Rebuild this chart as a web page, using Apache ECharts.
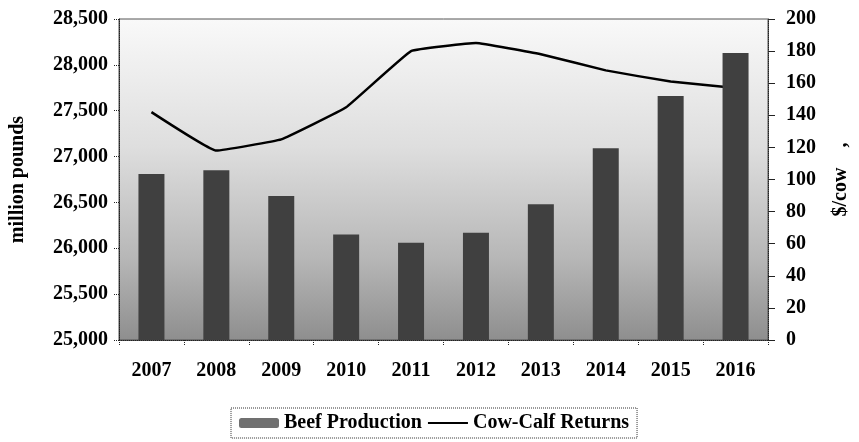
<!DOCTYPE html>
<html>
<head>
<meta charset="utf-8">
<script src="https://cdn.jsdelivr.net/npm/echarts@6/dist/echarts.min.js"></script>
<style>
  html, body { margin: 0; padding: 0; background: #fff; }
  #chart { width: 859px; height: 442px; }
</style>
</head>
<body>
<div id="chart"></div>
<script>
// Years on the category axis
const years = ['2007', '2008', '2009', '2010', '2011', '2012', '2013', '2014', '2015', '2016'];
// Beef production, million pounds (left axis)
const beefProduction = [26810, 26850, 26570, 26150, 26060, 26170, 26480, 27090, 27660, 28130];
// Cow-calf returns, $/cow (right axis)
const cowCalfReturns = [142, 118, 125, 145, 180, 185, 178, 168, 161, 157];
// Axis ranges
const leftAxisRange = { min: 25000, max: 28500, step: 500 };
const rightAxisRange = { min: 0, max: 200, step: 20 };

const FONT = '"Liberation Serif", "Times New Roman", serif';
const labelStyle = { color: '#000', fontFamily: FONT, fontWeight: 'bold', fontSize: 20 };

const chart = echarts.init(document.getElementById('chart'), null, { renderer: 'canvas' });

chart.setOption({
  animation: false,
  backgroundColor: '#fff',
  grid: {
    left: 118, right: 84, top: 19, bottom: 102,
    show: true,
    borderColor: '#555',
    borderWidth: 1,
    backgroundColor: new echarts.graphic.LinearGradient(0, 0, 0, 1, [
      { offset: 0, color: '#f9f9f9' },
      { offset: 0.4, color: '#dedede' },
      { offset: 0.75, color: '#b6b6b6' },
      { offset: 1, color: '#8e8e8e' }
    ])
  },
  legend: {
    left: 231, top: 408,
    padding: [5, 8, 5, 8],
    itemGap: 5,
    itemWidth: 40, itemHeight: 10,
    borderColor: '#333', borderWidth: 1, borderType: 'dotted',
    textStyle: { color: '#000', fontFamily: FONT, fontWeight: 'bold', fontSize: 20 },
    data: [
      { name: 'Beef Production', itemStyle: { color: '#707070' } },
      { name: 'Cow-Calf Returns', itemStyle: { opacity: 0 } }
    ]
  },
  xAxis: {
    type: 'category',
    data: years,
    axisLine: { lineStyle: { color: '#222', type: 'dotted', width: 1 } },
    axisTick: { show: true, length: 5, lineStyle: { color: '#222', type: 'dotted' } },
    axisLabel: Object.assign({ margin: 21 }, labelStyle)
  },
  yAxis: [
    {
      type: 'value',
      min: leftAxisRange.min, max: leftAxisRange.max, interval: leftAxisRange.step,
      name: 'million pounds',
      nameLocation: 'middle',
      nameGap: 91,
      nameTextStyle: labelStyle,
      splitLine: { show: false },
      axisLine: { show: true, lineStyle: { color: '#222', type: 'dotted' } },
      axisTick: { show: true, length: 5, lineStyle: { color: '#222', type: 'dotted' } },
      axisLabel: Object.assign({
        margin: 11,
        formatter: v => v.toLocaleString('en-US')
      }, labelStyle)
    },
    {
      type: 'value',
      position: 'right',
      min: rightAxisRange.min, max: rightAxisRange.max, interval: rightAxisRange.step,
      name: '$/cow    ,',
      nameLocation: 'middle',
      nameRotate: 90,
      nameGap: 63,
      nameTextStyle: labelStyle,
      splitLine: { show: false },
      axisLine: { show: true, lineStyle: { color: '#222', type: 'dotted' } },
      axisTick: { show: true, length: 7, lineStyle: { color: '#222' } },
      axisLabel: Object.assign({ margin: 18 }, labelStyle)
    }
  ],
  series: [
    {
      name: 'Beef Production',
      type: 'bar',
      yAxisIndex: 0,
      data: beefProduction,
      barWidth: 26,
      z: 3,
      itemStyle: { color: '#404040' }
    },
    {
      name: 'Cow-Calf Returns',
      type: 'line',
      yAxisIndex: 1,
      data: cowCalfReturns,
      smooth: 0.08,
      symbol: 'none',
      z: 2,
      lineStyle: { color: '#000', width: 2.5 },
      itemStyle: { color: '#000' }
    }
  ]
});
</script>
</body>
</html>
